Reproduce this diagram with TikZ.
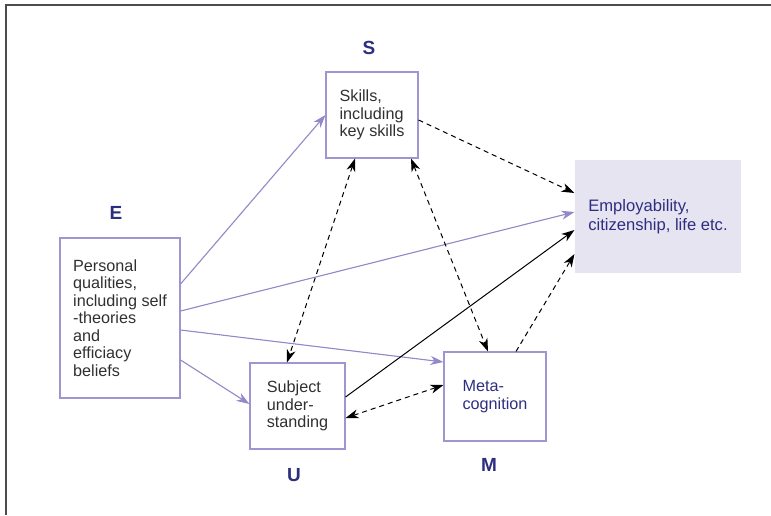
\documentclass[tikz,border=0pt]{standalone}
\usepackage{fontspec}
\setmainfont{Liberation Sans}
\usetikzlibrary{arrows.meta}
\definecolor{boxline}{HTML}{A095D0}
\definecolor{lilac}{HTML}{9488C8}
\definecolor{empfill}{HTML}{E7E4F2}
\definecolor{darkblue}{HTML}{2E2E80}
\definecolor{bodytext}{HTML}{303030}
\begin{document}
\begin{tikzpicture}[x=1pt,y=-1pt,
	box/.style={draw=boxline,line width=1.1pt,inner sep=0pt,align=left,text=bodytext,font=\fontsize{16.2}{17.5}\selectfont},
	letter/.style={text=darkblue,font=\fontsize{19}{21}\selectfont\bfseries},
	tip/.style={-{Stealth[length=13pt,width=9pt,inset=4pt]}},
	lilacline/.style={tip,draw=lilac,fill=lilac,line width=1.1pt},
	dashline/.style={{Stealth[length=13pt,width=9pt,inset=4pt]}-{Stealth[length=13pt,width=9pt,inset=4pt]},line width=1pt,dash pattern=on 5pt off 4pt},
	onedash/.style={tip,line width=1pt,dash pattern=on 5pt off 4pt}]
		\useasboundingbox (0,0) rectangle (771,515);
		\draw[line width=1.5pt,black!70] (6,515)--(6,5)--(771,5);
		% boxes
		\node[box,minimum width=92pt,minimum height=86pt] (S) at (372,115) {Skills,\\including\\key skills};
		\node[box,minimum width=120pt,minimum height=160pt] (E) at (120,318) {Personal\\qualities,\\including self\\-theories\\and\\efficiacy\\beliefs};
		\node[box,minimum width=95pt,minimum height=86pt] (U) at (297.5,406) {Subject\\under-\\standing};
		\node[box,minimum width=102pt,minimum height=89pt,text=darkblue] (M) at (495,396.5) {Meta-\\cognition};
		\node[box,draw=none,fill=empfill,minimum width=166pt,minimum height=113pt,text=darkblue,font=\fontsize{16.6}{18.5}\selectfont] (Emp) at (658,216.5) {Employability,\\citizenship, life etc.};
		% letters
		\node[letter] (Slab) at (369,48) {S};
		\node[letter] (Elab) at (116,213) {E};
		\node[letter] (Ulab) at (294,475) {U};
		\node[letter] (Mlab) at (489,465) {M};
		% arrows from E
		\draw[lilacline] ([yshift=34pt]E.east) -- (S.west);
		\draw[lilacline] ([yshift=7pt]E.east) -- ([yshift=4.5pt]Emp.west);
		\draw[lilacline] ([yshift=-12pt]E.east) -- ([yshift=34.5pt]M.west);
		\draw[lilacline] ([yshift=-42pt]E.east) -- ([yshift=2pt]U.west);
		% other links
		\draw[tip,line width=1pt] ([yshift=9pt]U.east) -- ([yshift=-13.5pt]Emp.west);
		\draw[dashline] ([xshift=-17pt]S.south) -- ([xshift=-10.5pt]U.north);
		\draw[dashline] ([xshift=39pt]S.south) -- ([xshift=-7pt]M.north);
		\draw[onedash] ([yshift=-5pt]S.east) -- ([yshift=23.5pt]Emp.west);
		\draw[onedash] ([xshift=21pt]M.north) -- ([yshift=-37.5pt]Emp.west);
		\draw[dashline] ([yshift=-12pt]U.east) -- ([yshift=11.5pt]M.west);
	\end{tikzpicture}
\end{document}
